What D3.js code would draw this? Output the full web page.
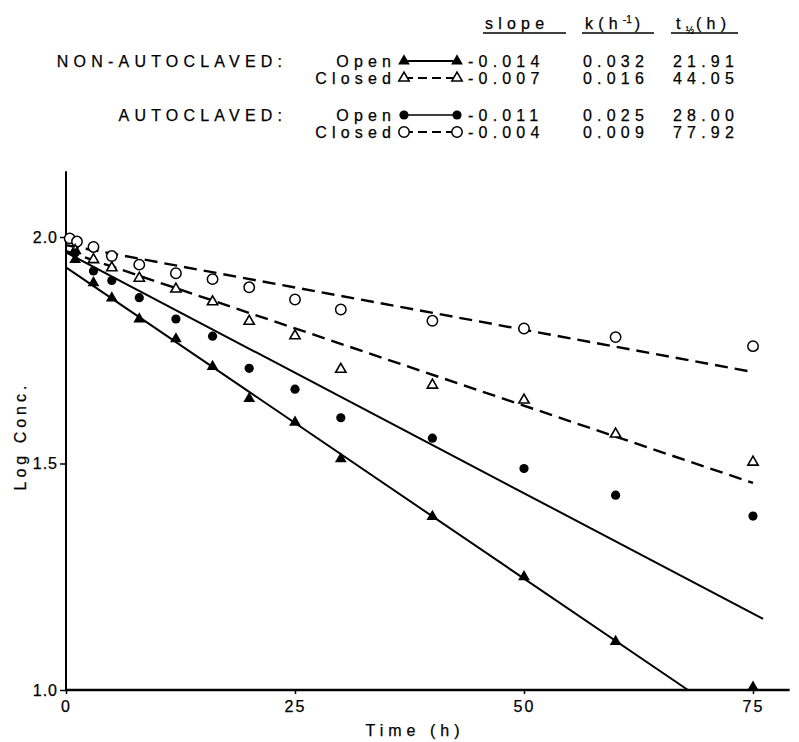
<!DOCTYPE html>
<html><head><meta charset="utf-8">
<script src="https://cdn.jsdelivr.net/npm/d3@7"></script>
<style>
html,body{margin:0;padding:0;background:#fff;}
text{font-family:"Liberation Sans",Arial,sans-serif;fill:#000;stroke:#000;stroke-width:0.25px;}
</style></head>
<body>
<svg id="chart" width="799" height="742"></svg>
<script>
// ---- data ----
const naOpenT   = [1, 3, 5, 8, 12, 16, 20, 25, 30, 40, 50, 60, 75];
const naOpenV   = [1.950, 1.899, 1.865, 1.819, 1.775, 1.714, 1.643, 1.591, 1.510, 1.383, 1.250, 1.107, 1.006];
const naClosedT = [1, 3, 5, 8, 12, 16, 20, 25, 30, 40, 50, 60, 75];
const naClosedV = [1.970, 1.950, 1.932, 1.909, 1.885, 1.857, 1.814, 1.782, 1.708, 1.673, 1.640, 1.565, 1.503];
const aOpenT    = [1, 3, 5, 8, 12, 16, 20, 25, 30, 40, 50, 60, 75];
const aOpenV    = [1.965, 1.925, 1.904, 1.866, 1.819, 1.781, 1.710, 1.664, 1.601, 1.556, 1.489, 1.430, 1.384];
const aClosedT  = [0.4, 1.2, 3, 5, 8, 12, 16, 20, 25, 30, 40, 50, 60, 75];
const aClosedV  = [1.997, 1.990, 1.978, 1.958, 1.939, 1.920, 1.907, 1.889, 1.862, 1.840, 1.815, 1.798, 1.779, 1.759];

// fitted lines: [t start, v start, t end, v end]
const fitNaOpen   = [0, 1.933, 67.9, 1.0];
const fitNaClosed = [0, 1.969, 75, 1.457];
const fitAOpen    = [0, 1.966, 76.1, 1.157];
const fitAClosed  = [0, 1.982, 74.7, 1.703];

const xTicks = [0, 25, 50, 75];
const yTicks = [1.0, 1.5, 2.0];

const groupLabels = ["NON-AUTOCLAVED:", "AUTOCLAVED:"];
const rowLabels = ["Open", "Closed", "Open", "Closed"];
const slopes = ["-0.014", "-0.007", "-0.011", "-0.004"];
const kVals = ["0.032", "0.016", "0.025", "0.009"];
const halfLives = ["21.91", "44.05", "28.00", "77.92"];

// ---- drawing ----
const svg = d3.select("#chart");
const x = d3.scaleLinear().domain([0, 75]).range([66, 753]);
const y = d3.scaleLinear().domain([1, 2]).range([690, 237]);

const FS = 16;
const LS = 5.2; // letter spacing
function spaced(sel){ return sel.style("letter-spacing", LS + "px"); }

// axes
const xAxisEnd = 79;
svg.append("line").attr("x1", x(0)).attr("x2", x(xAxisEnd)).attr("y1", y(1)).attr("y2", y(1))
  .attr("stroke", "#000").attr("stroke-width", 2.4);
svg.append("line").attr("x1", x(0)).attr("x2", x(0)).attr("y1", y(1)).attr("y2", y(2.145))
  .attr("stroke", "#000").attr("stroke-width", 2);

const xAxis = d3.axisBottom(x).tickValues(xTicks).tickSize(4).tickPadding(4).tickFormat(d => String(d));
const gx = svg.append("g").attr("transform", `translate(0,${y(1)})`).call(xAxis);
gx.select(".domain").remove();
gx.selectAll(".tick line").attr("stroke", "#000").attr("stroke-width", 1.5);
gx.selectAll(".tick text").attr("font-size", FS).style("letter-spacing", "2px").attr("fill", "#000")
  .attr("dy", "0.9em");

const yAxis = d3.axisLeft(y).tickValues(yTicks).tickSize(6).tickPadding(2).tickFormat(d3.format(".1f"));
const gy = svg.append("g").attr("transform", `translate(${x(0)},0)`).call(yAxis);
gy.select(".domain").remove();
gy.selectAll(".tick line").attr("stroke", "#000").attr("stroke-width", 1.5);
gy.selectAll(".tick text").attr("font-size", FS).style("letter-spacing", "1px").attr("fill", "#000");

// axis titles
svg.append("text").attr("x", 415).attr("y", 736).attr("text-anchor", "middle")
  .attr("font-size", FS).style("letter-spacing", "5px").text("Time (h)");
svg.append("text").attr("transform", "translate(26,436) rotate(-90)").attr("text-anchor", "middle")
  .attr("font-size", FS).style("letter-spacing", "4px").text("Log Conc.");

// fitted lines
function fitLine(f, dashed, width){
  svg.append("line").attr("x1", x(f[0])).attr("y1", y(f[1])).attr("x2", x(f[2])).attr("y2", y(f[3]))
    .attr("stroke", "#000").attr("stroke-width", width)
    .attr("stroke-dasharray", dashed ? "13,7" : null);
}
fitLine(fitAClosed, true, 2.4);
fitLine(fitNaClosed, true, 2.4);
fitLine(fitAOpen, false, 2);
fitLine(fitNaOpen, false, 2);

// markers
const triFilled = d3.symbol().type(d3.symbolTriangle).size(60);
const triOpen = d3.symbol().type(d3.symbolTriangle).size(46);
function drawMarker(g, kind, cx, cy){
  if (kind === "triF") g.append("path").attr("d", triFilled()).attr("transform", `translate(${cx},${cy})`).attr("fill", "#000");
  else if (kind === "triO") g.append("path").attr("d", triOpen()).attr("transform", `translate(${cx},${cy})`)
    .attr("fill", "#fff").attr("stroke", "#000").attr("stroke-width", 1.6);
  else if (kind === "cirF") g.append("circle").attr("cx", cx).attr("cy", cy).attr("r", 4.6).attr("fill", "#000");
  else g.append("circle").attr("cx", cx).attr("cy", cy).attr("r", 5.2).attr("fill", "#fff")
    .attr("stroke", "#000").attr("stroke-width", 1.5);
}
const series = [
  {t: aClosedT, v: aClosedV, kind: "cirO"},
  {t: naClosedT, v: naClosedV, kind: "triO"},
  {t: aOpenT, v: aOpenV, kind: "cirF"},
  {t: naOpenT, v: naOpenV, kind: "triF"}
];
const pts = svg.append("g");
series.forEach(s => {
  s.t.forEach((t, i) => drawMarker(pts, s.kind, x(t), y(s.v[i])));
});

// legend
const lg = svg.append("g");
const rowY = [61, 78, 115, 132];
const kinds = ["triF", "triO", "cirF", "cirO"];
const dashedRow = [false, true, false, true];
const headerY = 29;
[["slope", 485, 483, 566], ["k(h", 585, 582, 654], ["t", 676, 671, 738]].forEach((h, i) => {
  const t = lg.append("text").attr("x", h[1]).attr("y", headerY).attr("font-size", FS);
  spaced(t);
  if (i === 0) t.text("slope");
  else if (i === 1) {
    t.append("tspan").text("k(h");
    t.append("tspan").attr("font-size", 10).attr("dy", -6).style("letter-spacing", "0px").text("-1");
    t.append("tspan").attr("dy", 6).attr("dx", 3).text(")");
  } else {
    t.append("tspan").text("t");
    t.append("tspan").attr("font-size", 10).attr("dy", 5).style("letter-spacing", "0px").text("½");
    t.append("tspan").attr("dy", -5).attr("dx", 2).text("(h)");
  }
  lg.append("line").attr("x1", h[2]).attr("x2", h[3]).attr("y1", headerY + 4).attr("y2", headerY + 4)
    .attr("stroke", "#000").attr("stroke-width", 1.6);
});
groupLabels.forEach((g, i) => {
  spaced(lg.append("text").attr("x", 282 + LS).attr("y", rowY[i * 2] + 6).attr("text-anchor", "end")
    .attr("font-size", FS).text(g));
});
rowLabels.forEach((r, i) => {
  const yy = rowY[i];
  spaced(lg.append("text").attr("x", 391 + LS).attr("y", yy + 6).attr("text-anchor", "end").attr("font-size", FS).text(r));
  lg.append("line").attr("x1", 404).attr("x2", 457).attr("y1", yy).attr("y2", yy).attr("stroke", "#000")
    .attr("stroke-width", dashedRow[i] ? 2 : (i === 2 ? 1.4 : 2.2)).attr("stroke-dasharray", dashedRow[i] ? "9,5" : null);
  drawMarker(lg, kinds[i], 404, yy);
  drawMarker(lg, kinds[i], 457, yy);
  spaced(lg.append("text").attr("x", 468).attr("y", yy + 6).attr("font-size", FS).text(slopes[i]));
  spaced(lg.append("text").attr("x", 583).attr("y", yy + 6).attr("font-size", FS).text(kVals[i]));
  spaced(lg.append("text").attr("x", 673).attr("y", yy + 6).attr("font-size", FS).text(halfLives[i]));
});
</script>
</body></html>
